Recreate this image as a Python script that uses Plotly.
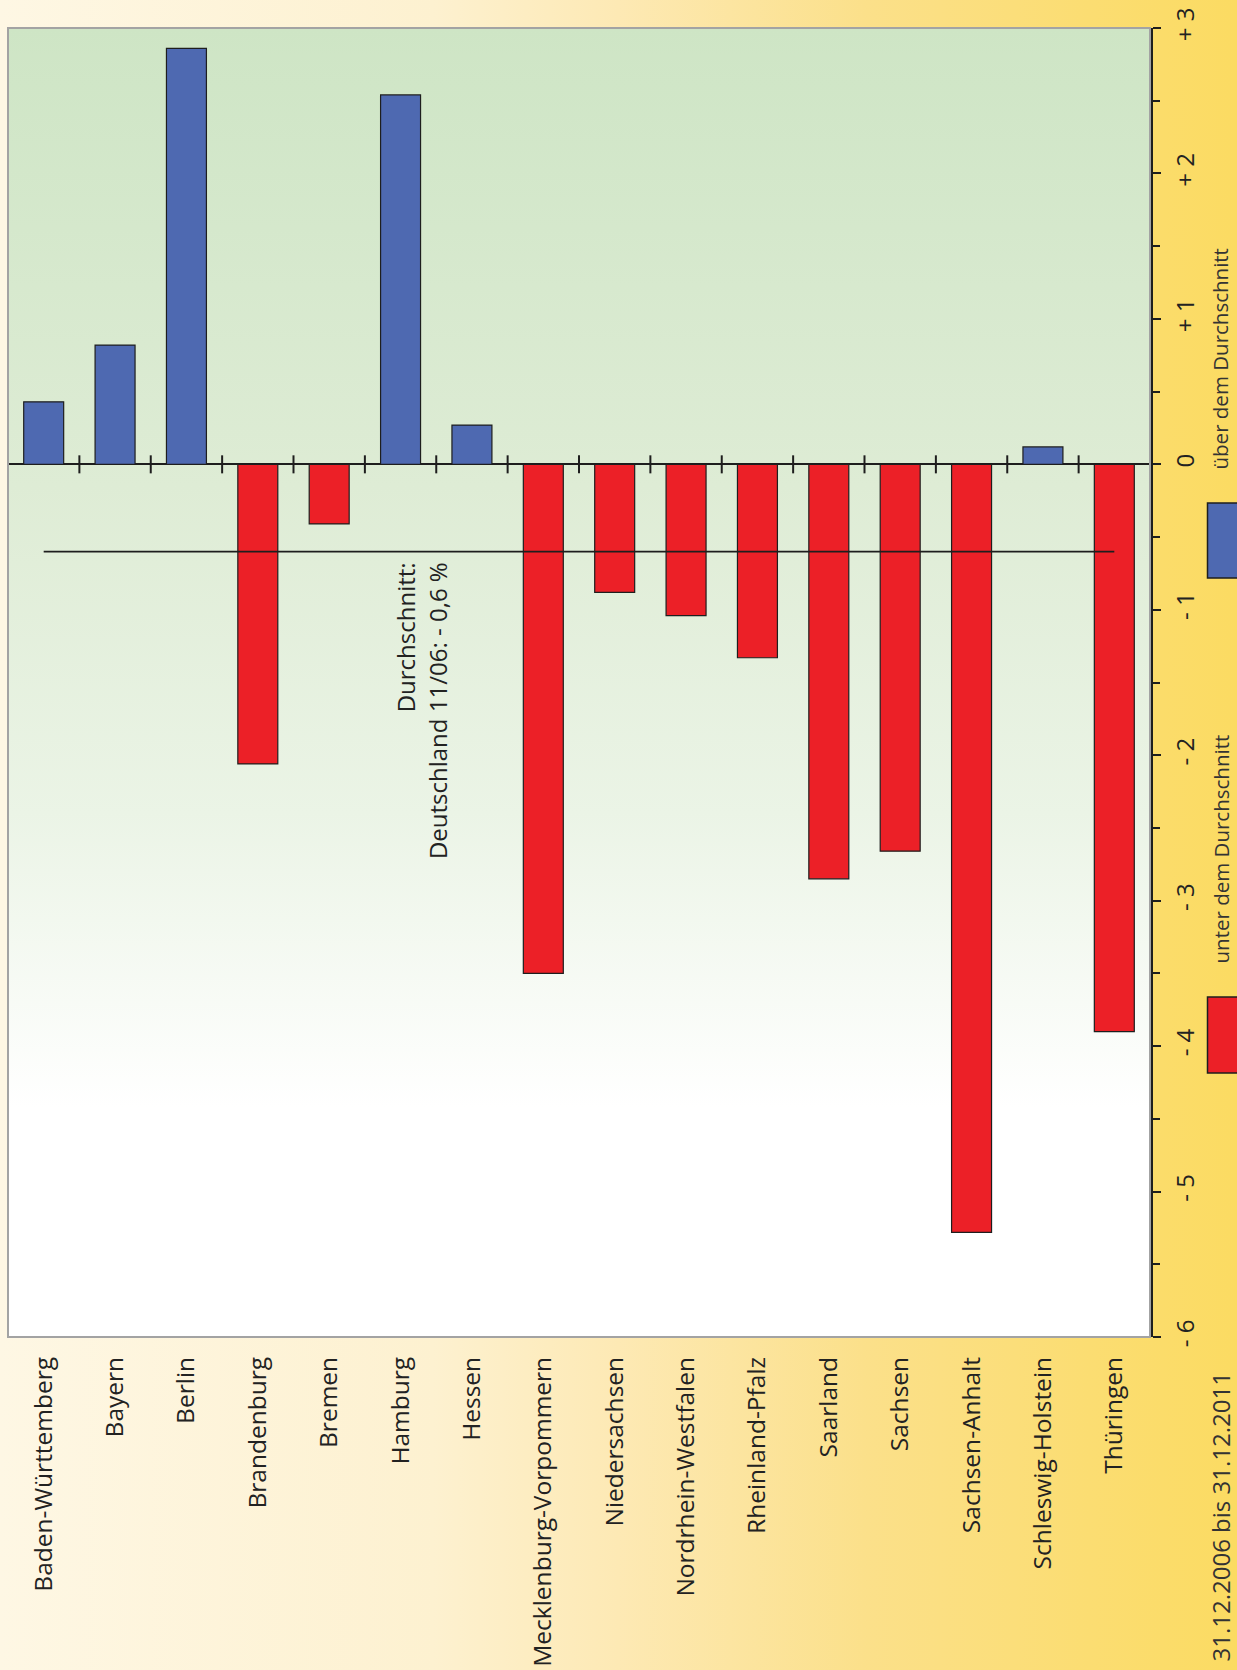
import base64
import plotly.graph_objects as go

# Bundesländer and their deviation from the national average (percentage points)
laender = [
    "Baden-Württemberg", "Bayern", "Berlin", "Brandenburg", "Bremen", "Hamburg",
    "Hessen", "Mecklenburg-Vorpommern", "Niedersachsen", "Nordrhein-Westfalen",
    "Rheinland-Pfalz", "Saarland", "Sachsen", "Sachsen-Anhalt",
    "Schleswig-Holstein", "Thüringen",
]
werte = [0.43, 0.82, 2.86, -2.06, -0.41, 2.54, 0.27, -3.50, -0.88, -1.04,
         -1.33, -2.85, -2.66, -5.28, 0.12, -3.90]

durchschnitt = -0.6
durchschnitt_text = "Durchschnitt:<br>Deutschland 11/06: - 0,6 %"

y_ticks = [-6, -5, -4, -3, -2, -1, 0, 1, 2, 3]
y_ticktext = ["- 6", "- 5", "- 4", "- 3", "- 2", "- 1", "0", "+ 1", "+ 2", "+ 3"]

legende_ueber = "über dem Durchschnitt"
legende_unter = "unter dem Durchschnitt"
zeitraum = "31.12.2006 bis 31.12.2011"

BLAU = "#4e69b1"
ROT = "#ec2027"
FONT = "Open Sans"
TEXT = "#222222"

W, H = 1237, 1670
M_L, M_R, M_T, M_B = 8, 87, 28, 333
PW, PH = W - M_L - M_R, H - M_T - M_B


def svg_uri(svg):
    return "data:image/svg+xml;base64," + base64.b64encode(svg.encode()).decode()


paper_grad = svg_uri(
    '<svg xmlns="http://www.w3.org/2000/svg" width="1237" height="1670" '
    'preserveAspectRatio="none"><defs><linearGradient id="g" x1="0" y1="0" x2="1" y2="0">'
    '<stop offset="0" stop-color="#fef7e4"/>'
    '<stop offset="0.35" stop-color="#fdf1d0"/>'
    '<stop offset="0.5" stop-color="#fde9b4"/>'
    '<stop offset="0.7" stop-color="#fbe08a"/>'
    '<stop offset="1" stop-color="#fbdb62"/>'
    '</linearGradient></defs><rect width="1237" height="1670" fill="url(#g)"/></svg>'
)

plot_grad = svg_uri(
    '<svg xmlns="http://www.w3.org/2000/svg" width="1142" height="1309" '
    'preserveAspectRatio="none"><defs><linearGradient id="p" x1="0" y1="0" x2="0" y2="1">'
    '<stop offset="0" stop-color="#cee5c5"/>'
    '<stop offset="0.35" stop-color="#deecd5"/>'
    '<stop offset="0.6" stop-color="#ebf4e6"/>'
    '<stop offset="0.825" stop-color="#ffffff"/>'
    '<stop offset="1" stop-color="#ffffff"/>'
    '</linearGradient></defs><rect width="1142" height="1309" fill="url(#p)"/></svg>'
)

x_idx = list(range(len(laender)))
farben = [BLAU if v >= 0 else ROT for v in werte]

fig = go.Figure()

fig.add_trace(go.Bar(
    x=x_idx, y=werte, width=0.56,
    marker=dict(color=farben, line=dict(color="#1e1e1e", width=1.2)),
    showlegend=False, hoverinfo="skip",
))

# small separator ticks across the zero line between the categories
tick_x, tick_y = [], []
for i in range(len(laender) + 1):
    b = i - 0.5
    tick_x += [b, b, None]
    tick_y += [-0.062, 0.062, None]
fig.add_trace(go.Scatter(
    x=tick_x, y=tick_y, mode="lines",
    line=dict(color="#1e1e1e", width=2), showlegend=False, hoverinfo="skip",
))

# national average line
fig.add_trace(go.Scatter(
    x=[x_idx[0], x_idx[-1]], y=[durchschnitt, durchschnitt], mode="lines",
    line=dict(color="#1e1e1e", width=1.6), showlegend=False, hoverinfo="skip",
))

fig.add_annotation(
    x=5.29, y=durchschnitt - 0.06, xref="x", yref="y",
    text=durchschnitt_text, showarrow=False, textangle=-90,
    xanchor="center", yanchor="top", align="right",
    font=dict(family=FONT, size=24, color=TEXT),
)

# legend keys and captions on the right margin
def px_x(p):
    return (p - M_L) / PW


def px_y(p):
    return (M_T + PH - p) / PH


fig.add_shape(type="rect", xref="paper", yref="paper",
              x0=px_x(1207.5), x1=px_x(1245), y0=px_y(578), y1=px_y(503),
              fillcolor=BLAU, line=dict(color="#1e1e1e", width=1.5))
fig.add_shape(type="rect", xref="paper", yref="paper",
              x0=px_x(1207.5), x1=px_x(1245), y0=px_y(1073), y1=px_y(997),
              fillcolor=ROT, line=dict(color="#1e1e1e", width=1.5))

for txt, bottom in [(legende_ueber, 472), (legende_unter, 966)]:
    fig.add_annotation(
        x=px_x(1220), y=px_y(bottom), xref="paper", yref="paper",
        text=txt, showarrow=False, textangle=-90,
        xanchor="center", yanchor="bottom",
        font=dict(family=FONT, size=20.5, color="#333333"),
    )

fig.add_annotation(
    x=px_x(1220), y=px_y(1664), xref="paper", yref="paper",
    text=zeitraum, showarrow=False, textangle=-90,
    xanchor="center", yanchor="bottom",
    font=dict(family=FONT, size=24, color="#333333"),
)

# plot frame
fig.add_shape(type="rect", xref="paper", yref="paper", x0=0, x1=1, y0=0, y1=1,
              line=dict(color="#a3a3a3", width=2), layer="above")

fig.add_layout_image(dict(
    source=paper_grad, xref="paper", yref="paper",
    x=-M_L / PW, y=(PH + M_T) / PH, sizex=W / PW, sizey=H / PH,
    sizing="stretch", xanchor="left", yanchor="top", layer="below",
))
fig.add_layout_image(dict(
    source=plot_grad, xref="paper", yref="paper",
    x=0, y=1, sizex=1, sizey=1,
    sizing="stretch", xanchor="left", yanchor="top", layer="below",
))

fig.update_layout(
    width=W, height=H,
    margin=dict(l=M_L, r=M_R, t=M_T, b=M_B, autoexpand=False),
    paper_bgcolor="#fdf0cc",
    plot_bgcolor="rgba(0,0,0,0)",
    bargap=0.44,
    font=dict(family=FONT, color=TEXT),
    xaxis=dict(
        range=[-0.5, len(laender) - 0.5],
        tickmode="array", tickvals=x_idx, ticktext=laender,
        tickangle=-90, ticks="", showline=False, showgrid=False, zeroline=False,
        tickfont=dict(family=FONT, size=24.5, color=TEXT),
        ticklabelstandoff=14, fixedrange=True, automargin=False,
    ),
    yaxis=dict(
        range=[-6, 3], side="right",
        tickmode="array", tickvals=y_ticks, ticktext=y_ticktext,
        tickangle=-90, ticks="outside", ticklen=8, tickwidth=2, tickcolor="#1e1e1e",
        minor=dict(dtick=0.5, tick0=0, ticks="outside", ticklen=7, tickwidth=2,
                   tickcolor="#1e1e1e", showgrid=False),
        showline=True, linecolor="#1e1e1e", linewidth=2.5,
        showgrid=False, zeroline=True, zerolinecolor="#1e1e1e", zerolinewidth=2,
        tickfont=dict(family=FONT, size=24, color=TEXT),
        ticklabelstandoff=4, fixedrange=True, automargin=False,
    ),
)

fig.write_html("out.html")
